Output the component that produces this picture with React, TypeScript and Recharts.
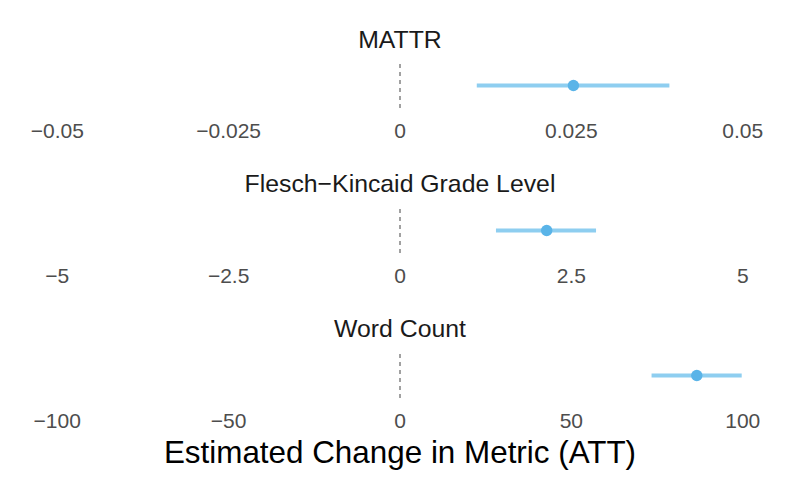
import React from "react";
import {
  ScatterChart,
  Scatter,
  XAxis,
  YAxis,
  ErrorBar,
  ReferenceLine,
} from "recharts";

// facets, top to bottom
const metrics = ["MATTR", "Flesch\u2212Kincaid Grade Level", "Word Count"];
const estimates = [0.0253, 2.14, 86.6];
const lowers = [0.0112, 1.4, 73.4];
const uppers = [0.0393, 2.86, 99.7];
const tickSets = [
  [-0.05, -0.025, 0, 0.025, 0.05],
  [-5, -2.5, 0, 2.5, 5],
  [-100, -50, 0, 50, 100],
];
const limits = [0.055, 5.5, 110];

const FONT = "'Liberation Sans', Arial, Helvetica, sans-serif";
const POINT = "#5AB4E8";
const BAR = "#8ECEF0";

const fmt = (v: number) => (v < 0 ? "\u2212" + String(-v) : String(v));

function Facet({ i, top }: { i: number; top: number }) {
  const data = [
    {
      x: estimates[i],
      y: 1,
      err: [estimates[i] - lowers[i], uppers[i] - estimates[i]],
    },
  ];
  return (
    <div style={{ position: "absolute", left: 0, top }}>
      <ScatterChart
        width={793}
        height={90}
        margin={{ top: 0, right: 16, bottom: 0, left: 23 }}
      >
        <XAxis
          type="number"
          dataKey="x"
          domain={[-limits[i], limits[i]]}
          ticks={tickSets[i]}
          tickFormatter={fmt}
          axisLine={false}
          tickLine={false}
          tickSize={0}
          tickMargin={15}
          height={45}
          tick={{ fill: "#4D4D4D", fontSize: 21, fontFamily: FONT }}
          interval={0}
        />
        <YAxis type="number" dataKey="y" domain={[0, 2]} hide />
        <ReferenceLine
          x={0}
          stroke="#555555"
          strokeDasharray="4 4"
          strokeWidth={1.1}
        />
        <Scatter
          data={data}
          isAnimationActive={false}
          shape={(p: any) => <circle cx={p.cx} cy={p.cy} r={5.7} fill={POINT} />}
        >
          <ErrorBar
            dataKey="err"
            direction="x"
            width={0}
            stroke={BAR}
            strokeWidth={4}
          />
        </Scatter>
      </ScatterChart>
    </div>
  );
}

export default function App() {
  const panelTops = [63, 208, 353];
  const titleBase = [48, 192, 337];
  return (
    <div
      style={{
        position: "absolute",
        left: 0,
        top: 0,
        width: 793,
        height: 486,
        background: "#fff",
        overflow: "hidden",
      }}
    >
      {panelTops.map((t, i) => (
        <Facet key={metrics[i]} i={i} top={t} />
      ))}
      <svg
        width={793}
        height={486}
        style={{ position: "absolute", left: 0, top: 0, pointerEvents: "none" }}
      >
        {metrics.map((m, i) => (
          <text
            key={m}
            x={400}
            y={titleBase[i]}
            textAnchor="middle"
            fontFamily={FONT}
            fontSize={24.8}
            fill="#1A1A1A"
          >
            {m}
          </text>
        ))}
        <text
          x={400}
          y={463}
          textAnchor="middle"
          fontFamily={FONT}
          fontSize={31.4}
          fill="#000"
        >
          Estimated Change in Metric (ATT)
        </text>
      </svg>
    </div>
  );
}
